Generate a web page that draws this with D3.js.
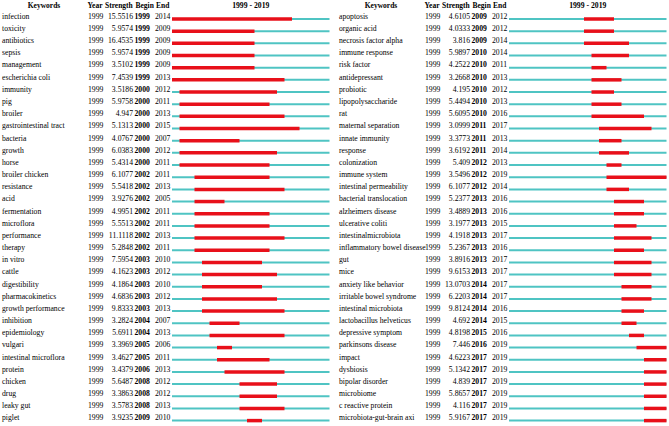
<!DOCTYPE html>
<html><head><meta charset="utf-8">
<script src="https://cdn.jsdelivr.net/npm/d3@7"></script>
<style>
html,body{margin:0;padding:0;background:#fff;}
svg text{font-family:"Liberation Serif","Times New Roman",serif;font-size:7.7px;fill:#000;}
</style></head>
<body><svg id="c" width="669" height="426"></svg>
<script>
const yearStart = 1999, yearEnd = 2019;
const headers = ["Keywords","Year","Strength","Begin","End"];

const leftKeywords = ["infection","toxicity","antibiotics","sepsis","management","escherichia coli","immunity","pig","broiler","gastrointestinal tract","bacteria","growth","horse","broiler chicken","resistance","acid","fermentation","microflora","performance","therapy","in vitro","cattle","digestibility","pharmacokinetics","growth performance","inhibition","epidemiology","vulgari","intestinal microflora","protein","chicken","drug","leaky gut","piglet"];
const leftStrength = ["15.5516","5.9574","16.4535","5.9574","3.5102","7.4539","3.5186","5.9758","4.947","5.1313","4.0767","6.0383","5.4314","6.1077","5.5418","3.9276","4.9951","5.5513","11.1118","5.2848","7.5954","4.1623","4.1864","4.6836","9.8333","3.2824","5.6911","3.3969","3.4627","3.4379","5.6487","3.3863","3.5783","3.9235"];
const leftBegin = [1999,1999,1999,1999,1999,1999,2000,2000,2000,2000,2000,2000,2000,2002,2002,2002,2002,2002,2002,2002,2003,2003,2003,2003,2003,2004,2004,2005,2005,2006,2008,2008,2008,2009];
const leftEnd = [2014,2009,2009,2009,2009,2013,2012,2011,2013,2015,2007,2012,2011,2011,2013,2005,2011,2011,2013,2011,2010,2012,2010,2012,2013,2007,2013,2006,2011,2013,2012,2012,2013,2010];

const rightKeywords = ["apoptosis","organic acid","necrosis factor alpha","immune response","risk factor","antidepressant","probiotic","lipopolysaccharide","rat","maternal separation","innate immunity","response","colonization","immune system","intestinal permeability","bacterial translocation","alzheimers disease","ulcerative coliti","intestinalmicrobiota","inflammatory bowel disease","gut","mice","anxiety like behavior","irritable bowel syndrome","intestinal microbiota","lactobacillus helveticus","depressive symptom","parkinsons disease","impact","dysbiosis","bipolar disorder","microbiome","c reactive protein","microbiota-gut-brain axi"];
const rightStrength = ["4.6105","4.0333","3.816","5.9897","4.2522","3.2668","4.195","5.4494","5.6095","3.0999","3.3773","3.6192","5.409","3.5496","6.1077","5.2377","3.4889","3.1977","4.1918","5.2367","3.8916","9.6153","13.0703","6.2203","9.8124","4.692","4.8198","7.446","4.6223","5.1342","4.839","5.8657","4.116","5.9167"];
const rightBegin = [2009,2009,2009,2010,2010,2010,2010,2010,2010,2011,2011,2011,2012,2012,2012,2013,2013,2013,2013,2013,2013,2013,2014,2014,2014,2014,2015,2016,2017,2017,2017,2017,2017,2017];
const rightEnd = [2012,2012,2014,2014,2011,2013,2012,2013,2016,2017,2013,2014,2013,2019,2014,2016,2016,2015,2017,2016,2017,2017,2017,2017,2016,2015,2016,2019,2019,2019,2019,2019,2019,2019];

const svg = d3.select("#c");
const RED = "#e8101a", CYAN = "#4fc4c3";

function drawTable(x0, kw, st, bg, en) {
  const g = svg.append("g").attr("transform", `translate(${x0},0)`);
  const n = kw.length;
  const y = d3.scaleLinear().domain([0, n - 1]).range([16, 16 + 12.17 * (n - 1)]);
  const x = d3.scaleLinear().domain([yearStart, yearEnd + 1]).range([170, 327.5]);

  const hy = 8.3;
  const hdr = [
    {t: headers[0], x: 42, a: "middle"},
    {t: headers[1], x: 85.5, a: "start"},
    {t: headers[2], x: 103, a: "start"},
    {t: headers[3], x: 133.5, a: "start"},
    {t: headers[4], x: 154, a: "start"}
  ];
  g.selectAll("text.h").data(hdr).join("text").attr("class","h")
    .attr("x", d => d.x).attr("y", hy).attr("text-anchor", d => d.a)
    .style("font-weight","bold").style("font-size","7.5px").text(d => d.t);
  g.append("text").attr("x", (x(yearStart) + x(yearEnd + 1)) / 2).attr("y", hy)
    .attr("text-anchor","middle").style("font-weight","bold")
    .text(`${yearStart} - ${yearEnd}`);

  const rows = g.selectAll("g.r").data(d3.range(n)).join("g").attr("class","r")
    .attr("transform", i => `translate(0,${y(i)})`);
  rows.append("text").attr("x", 0).attr("y", 2.8).text(i => kw[i]);
  rows.append("text").attr("x", 86).attr("y", 2.8).text(yearStart);
  rows.append("text").attr("x", 131).attr("y", 2.8).attr("text-anchor","end").text(i => st[i]);
  rows.append("text").attr("x", 132.5).attr("y", 2.8).style("font-weight","bold").text(i => bg[i]);
  rows.append("text").attr("x", 153).attr("y", 2.8).text(i => en[i]);
  rows.append("line").attr("x1", x(yearStart)).attr("x2", x(yearEnd + 1))
    .attr("y1", 3).attr("y2", 3).attr("stroke", CYAN).attr("stroke-width", 2);
  rows.append("line").attr("x1", i => x(bg[i])).attr("x2", i => x(en[i] + 1))
    .attr("y1", 3).attr("y2", 3).attr("stroke", RED).attr("stroke-width", 3.5);
}

drawTable(2, leftKeywords, leftStrength, leftBegin, leftEnd);
drawTable(339, rightKeywords, rightStrength, rightBegin, rightEnd);
</script></body></html>
